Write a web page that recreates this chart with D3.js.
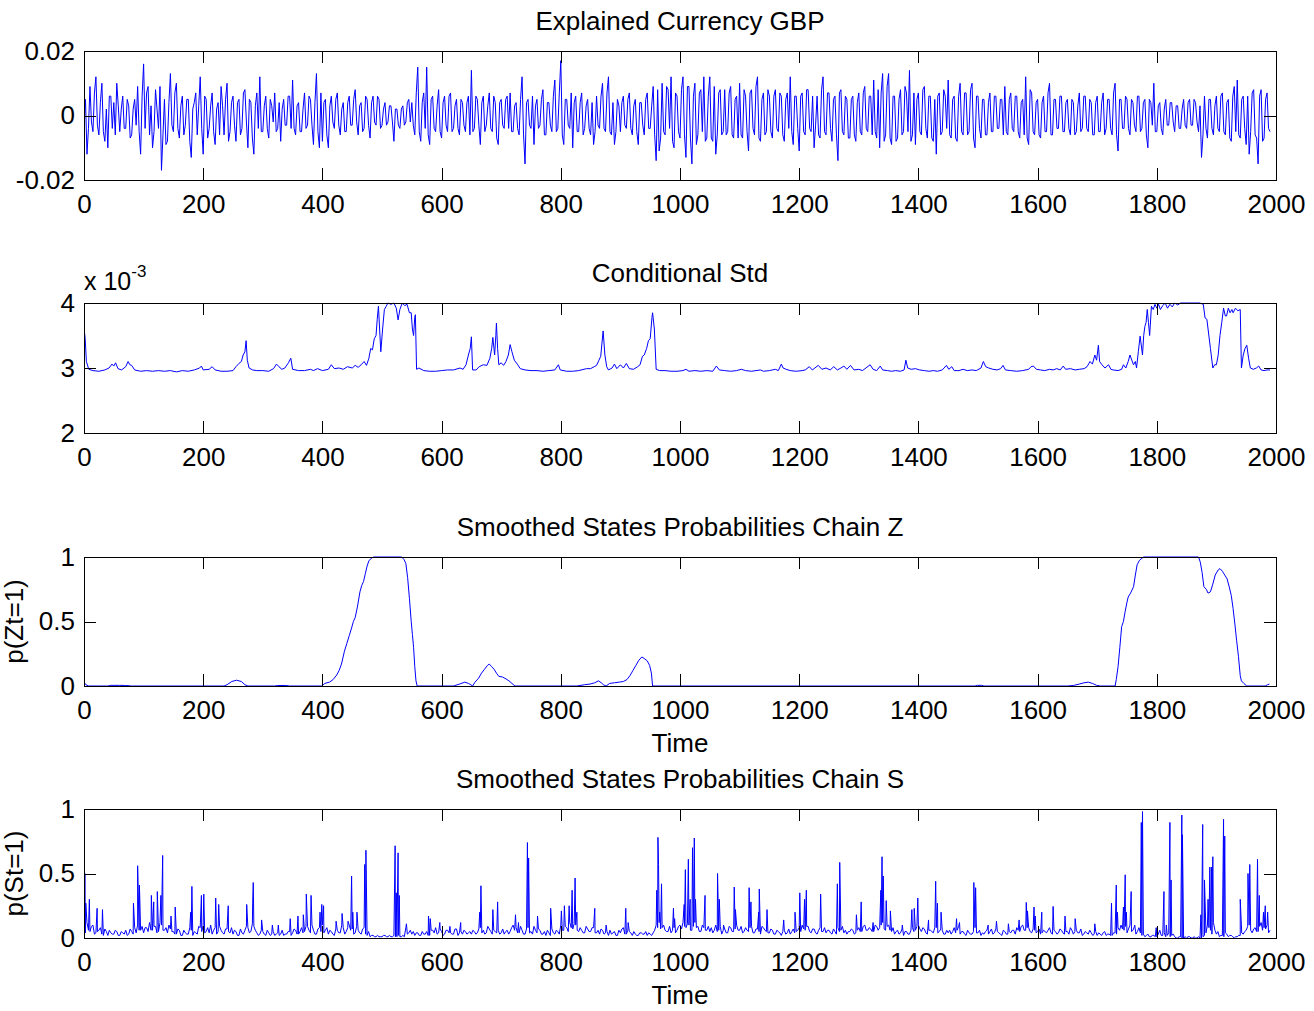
<!DOCTYPE html>
<html>
<head>
<meta charset="utf-8">
<script src="https://cdn.jsdelivr.net/npm/d3@7"></script>
<style>
body { margin: 0; background: #fff; }
</style>
</head>
<body>
<div id="chart-area"></div>
<script>
// x axis shared by all four panels
var xTicks = [0, 200, 400, 600, 800, 1000, 1200, 1400, 1600, 1800, 2000];
var step = 5; // sampling of the two dense series below

// Explained Currency GBP, thousandths, one value every 5 steps from t=0
var gbpRet = [
  -3, -12, 9, -5, 12, -6, 10, -8, -10, 6,
  4, 10, -5, 6, -4, 3, -6, 5, 9, -12,
  16, 7, -6, -10, 8, -4, -17, 5, -8, 13,
  -5, 10, -7, 6, -3, 5, -13, 4, -6, 12,
  -12, 5, -4, 7, -9, 4, 9, -6, 10, -5,
  6, -8, 5, -4, 8, -10, 4, -12, 7, 12,
  -5, 6, -7, 3, 7, -4, -8, 5, -3, 6,
  11, -6, 4, -5, 7, -3, 5, -9, 13, -10,
  -8, 5, -10, 6, -4, 7, -6, 4, -5, 6,
  -3, 8, -6, 4, -4, 5, -7, 6, -3, 5,
  -3, 4, -2, 3, -8, 2, -4, 3, -2, 5,
  4, -6, 15, -8, 7, 15, -9, 6, -5, 8,
  -7, 6, -5, 7, -4, 5, -6, 4, -5, 6,
  14, -4, 5, -9, 6, -3, 7, -5, 4, -9,
  5, -4, 6, 7, -5, 4, -6, 12, -15, 5,
  -4, -9, 5, -3, 8, -6, 4, -5, 11, -4,
  17, -9, 5, -4, -10, 6, -5, 7, -4, 5,
  -6, -9, 6, -4, 10, -5, 12, -6, -9, 5,
  -5, 6, -4, 7, -6, 5, -9, 4, -6, 7,
  -4, 9, -14, -11, 10, -6, 8, 12, -10, 6,
  -7, 12, -13, 9, -15, 10, -6, 8, 12, -7,
  12, -8, -12, 7, -6, 8, -5, 9, -7, 6,
  10, -7, 6, -11, 8, -6, 12, -8, 7, -5,
  6, -7, 8, -5, 6, -8, 7, 12, -9, 6,
  -11, 7, -6, 8, -5, -10, 6, -7, 12, -6,
  7, -8, 6, -14, 8, -6, 5, -7, 6, -8,
  7, -6, 9, -5, 6, 11, -7, -10, 13, -6,
  13, -9, 6, -7, 8, -5, 7, 14, -6, -9,
  7, -6, 9, -7, 6, -8, -12, 7, -5, 6,
  11, -7, 6, -8, 10, -6, 7, -5, 10, -10,
  6, -7, 5, -6, 7, -5, 6, -4, 5, 9,
  -6, 7, -5, 6, -7, 5, 12, -9, 7, -6,
  5, -7, 6, -5, 10, -6, 5, -4, 6, -5,
  5, -6, 4, -5, 7, -4, 6, -5, 4, -6,
  6, -5, 7, -4, 5, -6, 10, -11, 5, -4,
  5, -6, 4, -5, 6, -4, 5, -10, 4, 10,
  -5, 4, -6, 5, -3, 4, -5, 3, -4, 5,
  -4, 5, -3, 4, -5, -13, 6, -7, 5, -6,
  6, -5, 7, -6, 5, -8, 9, 11, -7, 6,
  -9, -12, 7, -6, -15, 8, -7, 7, -5
];
// the readings in between, at t = 2.5, 7.5, ...
var gbpRetMid = [
  5, -4, -2, 7, -3, 4, -5, 2, 6, -4,
  -6, 3, 2, -4, 5, -7, 2, -3, -5, 6,
  -4, 9, 3, -5, 2, 9, -6, -9, 4, -3,
  7, -4, 3, -6, 5, -8, 2, 7, 3, -4,
  6, -7, 3, -5, 2, -6, 3, 5, -8, 4,
  -3, 4, -6, 7, -2, 5, -7, 3, -4, -5,
  3, -4, 5, -2, -5, 4, 2, -3, 6, -4,
  -4, 3, -5, 2, -4, 6, -3, 4, -5, 7,
  4, -6, 3, -2, 5, -3, 2, -5, 4, -3,
  5, -2, 3, -5, 6, -3, 4, -2, 6, -4,
  2, -3, 3, -2, 2, -3, 2, -3, 4, -2,
  -3, 7, -5, 4, -4, -6, 5, -4, 3, -5,
  4, -3, 6, -5, 3, -4, 5, -3, 4, -6,
  -5, 6, -3, 4, -5, 3, -4, 6, -7, 4,
  -3, 5, -4, -5, 3, -4, 5, -6, 4, -3,
  6, 3, -4, 5, -6, 4, -3, 6, -5, 7,
  -6, 5, -3, 7, 4, -5, 4, -6, 3, -4,
  4, -5, -3, 6, -4, 7, -5, 4, -5, 3,
  4, -3, 5, -4, 3, -5, 4, -3, 5, -4,
  3, -6, 8, -7, -5, 9, -4, -8, 7, -5,
  8, -6, 9, -7, 6, -9, 7, -5, -8, 6,
  -7, 9, -6, 8, -5, -6, 7, -6, 5, -7,
  -6, 8, -5, 7, -4, 9, -7, 5, -6, 8,
  -5, 6, -4, 7, -6, 5, -4, -5, 6, -4,
  6, -5, 8, -4, 6, -3, -6, 8, -5, 7,
  -4, 5, -6, 7, -5, 6, -7, 5, -6, 4,
  -5, 7, -4, 6, -6, -5, 8, 7, -8, 9,
  -7, 6, -8, 5, -6, 9, -5, -8, 7, 5,
  -5, 8, -4, 6, -7, 5, 6, -6, 8, -4,
  -6, 5, -7, 6, -5, 7, -6, 8, -7, 6,
  -4, 5, -6, 4, -5, 6, -4, 5, -6, -5,
  5, -4, 6, -5, 4, -6, -7, 8, -5, 4,
  -6, 4, -5, 7, -6, 5, -4, 6, -5, 4,
  -4, 5, -6, 3, -5, 6, -4, 5, -6, 4,
  -5, 4, -6, 5, -4, 7, -6, 5, -4, 6,
  -4, 5, -3, 6, -5, 4, -6, 5, -3, -5,
  3, -4, 2, -3, 4, -2, 3, -4, 2, -3,
  4, -3, 5, -2, 3, -6, -4, 5, -4, 3,
  -4, 6, -5, 4, -7, 6, -5, -6, 5, -4,
  6, -5, 8, -7, 6, -8, 5, -4
];

// Conditional Std, x 10^-3, [t, value]
var condStd = [
  [0,3.62],[2,3.45],[4,3.1],[8,2.98],[15,2.96],[25,2.95],[35,2.97],[42,3.0],[47,3.06],[50,3.03],
  [53,3.08],[57,2.99],[63,2.97],[70,3.02],[74,3.1],[77,3.05],[80,3.04],[85,2.97],[95,2.95],[105,2.96],
  [115,2.95],[125,2.96],[135,2.95],[145,2.96],[155,2.94],[165,2.96],[175,2.95],[185,2.97],[194,3.0],[197,3.03],
  [200,2.97],[210,2.98],[215,3.02],[220,2.97],[230,2.95],[240,2.95],[250,2.96],[255,3.02],[260,3.07],[264,3.1],
  [267,3.2],[270,3.25],[272,3.42],[274,3.12],[277,3.0],[283,2.97],[290,2.96],[300,2.96],[310,2.95],[318,2.99],
  [323,3.06],[327,3.02],[332,2.98],[337,3.0],[343,3.08],[347,3.15],[350,2.98],[360,2.96],[370,2.96],[380,2.98],
  [385,2.96],[392,2.99],[400,2.96],[410,2.98],[415,3.05],[420,2.99],[428,3.0],[435,2.98],[442,3.02],[450,3.0],
  [455,3.04],[460,3.01],[465,3.05],[470,3.1],[474,3.04],[478,3.15],[481,3.3],[484,3.28],[487,3.45],[490,3.5],
  [492,3.75],[494,3.95],[496,3.6],[498,3.25],[501,3.6],[504,3.9],[507,3.95],[510,4.0],[515,3.98],[520,4.0],
  [524,3.92],[527,3.74],[530,3.9],[534,4.0],[538,3.96],[542,3.98],[546,3.85],[549,3.85],[551,3.6],[553,3.5],
  [555,3.78],[556,3.82],[558,2.98],[562,3.0],[570,2.96],[580,2.95],[590,2.95],[600,2.96],[610,2.97],[620,2.97],
  [631,3.0],[636,2.98],[641,3.05],[645,3.2],[648,3.3],[650,3.48],[652,2.97],[658,2.97],[663,3.02],[670,3.05],
  [676,3.04],[681,3.15],[684,3.3],[686,3.47],[689,3.2],[691,3.5],[692,3.69],[694,3.3],[696,3.05],[700,3.08],
  [704,3.04],[708,3.1],[712,3.2],[715,3.36],[718,3.25],[722,3.12],[727,3.06],[732,2.99],[740,2.97],[750,2.96],
  [760,2.96],[770,2.95],[780,2.96],[790,2.97],[796,3.05],[799,2.97],[810,2.95],[820,2.95],[830,2.96],[843,2.99],
  [850,2.99],[856,3.02],[860,3.04],[864,3.12],[867,3.18],[871,3.57],[874,3.2],[877,3.02],[880,2.97],[886,3.0],
  [890,3.06],[894,2.99],[900,3.05],[905,3.0],[910,3.07],[915,2.99],[922,2.98],[929,3.02],[933,3.05],[937,3.18],
  [940,3.2],[944,3.3],[947,3.42],[950,3.45],[953,3.78],[954,3.85],[957,3.6],[960,2.98],[966,2.96],[975,2.96],
  [985,2.95],[995,2.95],[1005,2.96],[1010,2.98],[1015,2.95],[1025,2.96],[1035,2.95],[1045,2.96],[1055,2.95],[1061,3.03],
  [1066,2.97],[1075,2.96],[1085,2.95],[1095,2.96],[1103,2.98],[1110,2.96],[1120,2.95],[1135,2.97],[1140,2.95],[1150,2.96],
  [1160,2.98],[1165,2.96],[1170,3.06],[1173,3.0],[1178,2.98],[1185,2.96],[1195,2.95],[1205,2.96],[1210,2.97],[1217,3.02],
  [1222,2.97],[1232,3.04],[1238,2.98],[1245,3.0],[1252,2.97],[1258,3.02],[1264,2.97],[1270,3.0],[1275,3.03],[1280,2.98],
  [1286,3.04],[1292,2.97],[1300,2.98],[1306,2.96],[1312,3.0],[1319,3.05],[1324,2.98],[1330,2.96],[1336,3.03],[1340,2.97],
  [1348,2.96],[1355,2.95],[1362,2.96],[1370,2.95],[1376,2.97],[1379,3.12],[1382,3.0],[1388,2.98],[1395,2.99],[1402,2.97],
  [1410,2.96],[1418,2.95],[1425,2.96],[1432,2.95],[1440,2.97],[1447,3.04],[1451,2.98],[1456,3.02],[1460,2.96],[1468,2.96],
  [1475,2.98],[1482,2.96],[1490,2.97],[1497,2.96],[1505,3.0],[1509,3.1],[1513,3.02],[1518,3.0],[1525,2.98],[1532,2.97],
  [1538,2.99],[1542,3.04],[1546,2.97],[1555,2.96],[1565,2.95],[1575,2.96],[1585,2.98],[1589,3.02],[1593,3.03],[1598,2.98],
  [1605,2.97],[1612,2.96],[1620,2.98],[1626,2.97],[1632,2.99],[1638,2.97],[1643,3.03],[1647,2.98],[1655,2.99],[1663,2.97],
  [1670,2.98],[1678,2.99],[1683,3.02],[1688,3.1],[1692,3.06],[1696,3.2],[1699,3.12],[1702,3.35],[1704,3.1],[1708,3.05],
  [1713,3.0],[1719,3.05],[1723,2.98],[1727,2.97],[1735,2.96],[1741,2.98],[1744,3.05],[1748,3.0],[1752,3.1],[1755,3.2],
  [1758,3.12],[1761,3.05],[1764,3.1],[1766,3.0],[1769,3.25],[1772,3.49],[1776,3.2],[1778,3.5],[1780,3.64],[1782,3.7],
  [1784,3.9],[1786,3.7],[1788,3.5],[1791,3.95],[1794,3.9],[1797,3.98],[1800,3.92],[1803,3.98],[1806,3.9],[1810,3.96],
  [1814,4.0],[1818,3.92],[1822,3.98],[1826,3.94],[1830,4.0],[1835,3.97],[1840,4.0],[1848,4.0],[1856,4.0],[1864,4.0],
  [1872,4.0],[1878,3.98],[1881,3.77],[1884,3.75],[1886,3.6],[1890,3.3],[1894,3.0],[1897,3.05],[1900,3.05],[1903,3.2],
  [1906,3.5],[1909,3.7],[1912,3.92],[1915,3.8],[1917,3.8],[1920,3.92],[1923,3.85],[1926,3.9],[1928,3.85],[1932,3.92],
  [1936,3.88],[1940,3.9],[1942,3.0],[1945,3.2],[1948,3.3],[1951,3.35],[1954,3.15],[1957,3.0],[1962,2.98],[1967,3.0],
  [1971,3.03],[1975,2.97],[1980,2.96],[1985,2.97],[1990,2.97]
];

// Smoothed p(Zt=1), [t, value]
var probZ = [
  [0,0.03],[3,0.01],[8,0],[40,0],[45,0.005],[60,0.005],[70,0.004],[80,0],[235,0],[240,0.01],
  [248,0.035],[256,0.045],[264,0.035],[270,0.01],[275,0],[320,0],[325,0.004],[340,0.004],[345,0],[399,0],
  [404,0.02],[412,0.03],[418,0.05],[424,0.085],[428,0.12],[432,0.17],[437,0.27],[441,0.33],[445,0.39],[449,0.45],
  [452,0.5],[455,0.53],[459,0.62],[463,0.73],[466,0.78],[469,0.81],[472,0.87],[475,0.93],[478,0.97],[482,0.99],
  [486,1],[533,1],[537,0.98],[540,0.95],[543,0.84],[546,0.68],[549,0.5],[551,0.4],[553,0.3],[555,0.15],
  [557,0.04],[559,0],[620,0],[630,0.015],[639,0.03],[645,0.02],[649,0.01],[652,0],[656,0.03],[662,0.06],
  [667,0.1],[672,0.13],[677,0.16],[680,0.17],[684,0.15],[688,0.13],[692,0.1],[696,0.075],[702,0.07],[708,0.055],
  [713,0.04],[718,0.02],[723,0],[827,0],[840,0.01],[849,0.015],[857,0.025],[863,0.04],[868,0.025],[872,0.008],
  [876,0],[882,0.02],[890,0.025],[898,0.03],[905,0.035],[911,0.05],[916,0.08],[921,0.12],[926,0.16],[931,0.2],
  [936,0.225],[941,0.21],[945,0.195],[949,0.16],[952,0.1],[954,0],[1495,0],[1499,0.005],[1506,0.005],[1510,0],
  [1650,0],[1660,0.004],[1670,0.015],[1678,0.025],[1685,0.03],[1692,0.02],[1699,0.005],[1705,0],[1730,0],[1732,0.05],
  [1735,0.15],[1738,0.3],[1741,0.46],[1744,0.5],[1747,0.58],[1750,0.65],[1752,0.69],[1756,0.72],[1761,0.77],[1764,0.86],
  [1767,0.94],[1771,0.975],[1775,0.99],[1778,1],[1870,1],[1873,0.96],[1876,0.88],[1879,0.77],[1883,0.75],[1886,0.72],
  [1890,0.73],[1894,0.79],[1898,0.86],[1903,0.9],[1906,0.91],[1910,0.89],[1914,0.86],[1918,0.83],[1922,0.76],[1925,0.7],
  [1928,0.6],[1931,0.48],[1934,0.35],[1937,0.23],[1940,0.08],[1942,0.04],[1946,0.02],[1951,0],[1982,0],[1986,0.01],
  [1989,0.015]
];

// Smoothed p(St=1): background level in hundredths every 5 steps ...
var probSBase = [
  8, 12, 5, 10, 4, 6, 3, 7, 2, 4,
  3, 5, 2, 4, 6, 3, 5, 8, 10, 6,
  4, 8, 12, 6, 9, 5, 10, 6, 4, 7,
  5, 3, 6, 2, 4, 3, 6, 5, 3, 8,
  10, 5, 4, 3, 8, 5, 6, 3, 7, 4,
  3, 5, 2, 4, 6, 8, 5, 9, 4, 3,
  5, 2, 4, 3, 2, 4, 3, 2, 3, 5,
  4, 6, 3, 8, 5, 9, 4, 6, 3, 8,
  10, 6, 3, 5, 2, 6, 4, 8, 5, 10,
  7, 4, 6, 3, 8, 2, 1, 2, 1, 1,
  1, 2, 1, 1, 2, 1, 1, 2, 8, 4,
  3, 2, 4, 2, 3, 5, 2, 6, 8, 4,
  5, 3, 6, 4, 3, 7, 4, 3, 5, 4,
  3, 5, 4, 8, 6, 4, 7, 3, 5, 6,
  4, 3, 6, 5, 10, 8, 4, 6, 3, 8,
  5, 9, 4, 6, 3, 2, 4, 7, 3, 5,
  10, 6, 8, 12, 7, 10, 5, 6, 4, 7,
  5, 8, 4, 3, 6, 4, 2, 3, 5, 2,
  4, 8, 3, 5, 2, 3, 2, 4, 3, 2,
  3, 4, 10, 12, 8, 6, 5, 4, 8, 6,
  10, 12, 8, 10, 6, 12, 9, 5, 8, 6,
  5, 4, 10, 6, 3, 7, 4, 8, 5, 10,
  6, 4, 8, 5, 9, 4, 7, 3, 8, 5,
  4, 6, 3, 5, 2, 6, 4, 3, 7, 5,
  8, 10, 6, 9, 4, 7, 3, 8, 5, 4,
  6, 3, 5, 8, 6, 4, 3, 5, 6, 4,
  8, 5, 10, 6, 7, 5, 9, 8, 12, 6,
  10, 5, 3, 6, 4, 2, 5, 3, 8, 6,
  10, 5, 7, 3, 6, 4, 8, 5, 6, 3,
  4, 3, 8, 6, 3, 5, 2, 4, 3, 8,
  4, 2, 3, 6, 5, 3, 7, 4, 2, 5,
  3, 4, 6, 8, 5, 10, 6, 8, 4, 6,
  5, 3, 6, 4, 8, 3, 5, 4, 6, 3,
  5, 8, 3, 6, 4, 2, 5, 3, 4, 3,
  2, 3, 4, 2, 3, 2, 4, 8, 10, 6,
  4, 10, 6, 3, 8, 2, 1, 3, 1, 2,
  1, 6, 2, 1, 4, 2, 1, 0, 1, 0,
  0, 1, 0, 0, 1, 0, 2, 10, 6, 12,
  3, 1, 2, 4, 1, 2, 0, 1, 2, 3,
  6, 10, 4, 8, 5, 12, 8, 10, 6
];
var probSBaseMid = [
  4, 6, 9, 3, 5, 8, 2, 5, 6, 3,
  6, 2, 5, 3, 2, 7, 3, 4, 6, 9,
  8, 5, 6, 9, 4, 12, 6, 8, 10, 5,
  3, 7, 2, 6, 3, 8, 2, 4, 9, 5,
  4, 8, 10, 6, 3, 9, 4, 7, 5, 8,
  6, 2, 7, 3, 9, 4, 11, 6, 2, 6,
  3, 6, 2, 5, 3, 2, 6, 3, 5, 2,
  7, 3, 5, 4, 9, 6, 10, 3, 7, 5,
  4, 8, 6, 3, 7, 4, 10, 3, 8, 6,
  3, 9, 4, 7, 3, 5, 2, 1, 2, 1,
  2, 1, 2, 1, 1, 2, 1, 1, 3, 6,
  5, 4, 2, 5, 3, 2, 6, 4, 3, 7,
  2, 6, 4, 3, 7, 2, 5, 6, 3, 5,
  6, 3, 7, 4, 3, 9, 5, 6, 4, 3,
  7, 5, 3, 8, 6, 4, 9, 3, 7, 4,
  3, 6, 7, 3, 5, 6, 2, 4, 6, 3,
  6, 9, 5, 8, 11, 6, 8, 4, 9, 5,
  8, 4, 6, 7, 3, 5, 6, 4, 2, 6,
  7, 3, 6, 4, 5, 2, 4, 3, 5, 4,
  2, 6, 8, 7, 10, 5, 9, 6, 4, 9,
  7, 9, 11, 6, 9, 8, 5, 10, 6, 9,
  8, 6, 5, 9, 6, 4, 9, 5, 7, 6,
  9, 5, 6, 8, 4, 7, 5, 9, 6, 4,
  7, 3, 6, 4, 5, 3, 7, 5, 4, 6,
  5, 7, 9, 5, 7, 4, 6, 5, 8, 6,
  4, 7, 3, 5, 9, 6, 5, 7, 3, 6,
  5, 9, 6, 8, 5, 10, 6, 10, 7, 9,
  6, 8, 5, 3, 7, 5, 3, 6, 5, 9,
  7, 8, 4, 6, 5, 8, 4, 7, 3, 6,
  6, 5, 4, 9, 5, 3, 6, 3, 5, 4,
  6, 4, 5, 3, 7, 4, 5, 3, 6, 3,
  5, 6, 3, 6, 9, 6, 8, 5, 7, 4,
  7, 4, 5, 6, 4, 6, 3, 7, 4, 5,
  3, 6, 5, 4, 7, 3, 4, 6, 2, 5,
  4, 2, 5, 3, 2, 4, 3, 6, 7, 9,
  7, 5, 9, 5, 4, 3, 2, 1, 2, 1,
  3, 2, 4, 2, 1, 3, 0, 1, 0, 1,
  1, 0, 1, 0, 0, 1, 4, 8, 3, 6,
  5, 2, 1, 3, 2, 1, 1, 2, 4, 5,
  9, 6, 7, 5, 9, 6, 7, 4
];

// ... and the spikes on top of it, [t, value]
var probSSpikes = [
  [1.5,0.5],[3,0.27],[9,0.3],[22,0.23],[31,0.22],[83,0.27],[90,0.56],[93,0.41],[113,0.33],[117,0.28],
  [123,0.36],[129,0.33],[132,0.64],[146,0.17],[153,0.24],[179,0.2],[181,0.4],[197,0.33],[201,0.34],[221,0.31],
  [226,0.26],[242,0.25],[273,0.26],[283,0.27],[284,0.43],[298,0.14],[316,0.1],[326,0.1],[346,0.15],[359,0.17],
  [368,0.18],[373,0.34],[381,0.33],[396,0.2],[399,0.26],[402,0.25],[423,0.13],[433,0.19],[443,0.13],[449,0.48],
  [451,0.2],[458,0.2],[471,0.57],[473,0.68],[522,0.715],[524,0.35],[527,0.66],[529,0.33],[541,0.11],[578,0.17],
  [581,0.15],[597,0.12],[614,0.09],[632,0.12],[664,0.2],[666,0.405],[686,0.22],[694,0.28],[724,0.18],[729,0.12],
  [744,0.74],[746,0.62],[761,0.17],[783,0.23],[801,0.21],[806,0.25],[814,0.25],[819,0.37],[824,0.465],[827,0.2],
  [857,0.23],[876,0.1],[909,0.23],[913,0.12],[961,0.37],[963,0.78],[964,0.57],[966,0.2],[969,0.42],[989,0.23],
  [991,0.15],[1007,0.26],[1009,0.53],[1014,0.61],[1017,0.3],[1021,0.7],[1024,0.775],[1026,0.3],[1042,0.33],[1063,0.5],
  [1066,0.3],[1073,0.1],[1091,0.395],[1093,0.22],[1116,0.39],[1119,0.28],[1132,0.2],[1133,0.38],[1146,0.22],[1174,0.14],
  [1193,0.2],[1201,0.35],[1209,0.3],[1212,0.37],[1236,0.34],[1264,0.42],[1268,0.586],[1296,0.18],[1304,0.28],[1324,0.12],
  [1337,0.37],[1339,0.63],[1341,0.48],[1346,0.29],[1353,0.21],[1373,0.1],[1389,0.22],[1393,0.23],[1399,0.31],[1417,0.14],
  [1429,0.44],[1432,0.27],[1438,0.2],[1464,0.15],[1469,0.12],[1493,0.43],[1496,0.39],[1517,0.1],[1531,0.13],[1551,0.11],
  [1569,0.14],[1581,0.276],[1583,0.21],[1594,0.24],[1596,0.17],[1607,0.2],[1626,0.245],[1646,0.17],[1663,0.15],[1696,0.11],
  [1724,0.27],[1732,0.41],[1734,0.2],[1744,0.24],[1747,0.49],[1749,0.2],[1757,0.36],[1763,0.1],[1774,0.896],[1776,0.98],
  [1799,0.08],[1812,0.36],[1816,0.1],[1822,0.896],[1824,0.45],[1842,0.953],[1843,0.8],[1874,0.18],[1877,0.88],[1880,0.45],
  [1886,0.3],[1889,0.55],[1892,0.55],[1894,0.63],[1912,0.92],[1914,0.79],[1940,0.3],[1953,0.5],[1956,0.57],[1969,0.61],
  [1972,0.33],[1979,0.2],[1982,0.25],[1986,0.2]
];

var def = {
    width: 1314,
    height: 1011,
    left: 84,
    right: 1276,
    tick: 12,
    font: 26,
    family: '"Liberation Sans", Arial, Helvetica, sans-serif',
    color: '#0000ff'
};

var svg = d3.select('#chart-area').append('svg')
    .attr('width', def.width)
    .attr('height', def.height)
    .style('display', 'block');

var x = d3.scaleLinear()
    .domain([0, 2000])
    .range([def.left, def.right]);

function byTime(a, b) { return a.t - b.t; }

var retData = gbpRet.map((v, i) => ({t: i * step, v: v / 1000}))
    .concat(gbpRetMid.map((v, i) => ({t: i * step + step / 2, v: v / 1000})))
    .sort(byTime);
var stdData = condStd.map(d => ({t: d[0], v: d[1]}));
var zData = probZ.map(d => ({t: d[0], v: d[1]}));
var sData = probSBase.map((v, i) => ({t: i * step, v: v / 100}))
    .concat(probSBaseMid.map((v, i) => ({t: i * step + step / 2, v: v / 100})))
    .concat(probSSpikes.map(d => ({t: d[0], v: d[1]})))
    .sort(byTime);

function panel(id, cfg) {
    var y = d3.scaleLinear()
        .domain(cfg.domain)
        .range([cfg.bottom, cfg.top]);
    var g = svg.append('g');

    g.append('clipPath').attr('id', 'clip' + id)
        .append('rect')
        .attr('x', def.left)
        .attr('y', cfg.top - 1)
        .attr('width', def.right - def.left)
        .attr('height', cfg.bottom - cfg.top + 2);

    g.append('path')
        .datum(cfg.data)
        .attr('clip-path', 'url(#clip' + id + ')')
        .attr('fill', 'none')
        .attr('stroke', def.color)
        .attr('stroke-width', 1)
        .attr('d', d3.line().x(d => x(d.t)).y(d => y(d.v)));

    // box with inward ticks on all four sides, like matlab
    var axes = [
        [d3.axisBottom(x).tickValues(xTicks).tickPadding(15).tickFormat(String), 'translate(0,' + cfg.bottom + ')'],
        [d3.axisTop(x).tickValues(xTicks).tickFormat(''), 'translate(0,' + cfg.top + ')'],
        [d3.axisLeft(y).tickValues(cfg.ticks).tickPadding(9).tickFormat(String), 'translate(' + def.left + ',0)'],
        [d3.axisRight(y).tickValues(cfg.ticks).tickFormat(''), 'translate(' + def.right + ',0)']
    ];
    axes.forEach(a => {
        var ax = g.append('g')
            .attr('transform', a[1])
            .call(a[0].tickSizeInner(-def.tick).tickSizeOuter(0))
            .attr('font-size', def.font)
            .attr('font-family', def.family);
        ax.selectAll('line, path').attr('stroke', '#000').attr('shape-rendering', 'crispEdges');
        ax.selectAll('text').attr('fill', '#000');
    });

    g.append('text')
        .attr('x', (def.left + def.right) / 2)
        .attr('y', cfg.top - 21)
        .attr('text-anchor', 'middle')
        .attr('font-size', def.font)
        .attr('font-family', def.family)
        .text(cfg.title);

    if (cfg.ylab) {
        g.append('text')
            .attr('transform', 'translate(23,' + (cfg.top + cfg.bottom) / 2 + ') rotate(-90)')
            .attr('text-anchor', 'middle')
            .attr('font-size', def.font)
            .attr('font-family', def.family)
            .text(cfg.ylab);
    }
    if (cfg.xlab) {
        g.append('text')
            .attr('x', (def.left + def.right) / 2)
            .attr('y', cfg.bottom + 66)
            .attr('text-anchor', 'middle')
            .attr('font-size', def.font)
            .attr('font-family', def.family)
            .text(cfg.xlab);
    }
    return g;
}

panel(1, {top: 51, bottom: 180, domain: [-0.02, 0.02], ticks: [-0.02, 0, 0.02],
    data: retData, title: 'Explained Currency GBP'});

var g2 = panel(2, {top: 303, bottom: 433, domain: [2, 4], ticks: [2, 3, 4],
    data: stdData, title: 'Conditional Std'});

// exponent label
var expo = g2.append('text')
    .attr('x', def.left)
    .attr('y', 290)
    .attr('font-size', 25)
    .attr('font-family', def.family)
    .text('x 10');
expo.append('tspan')
    .attr('dy', -13)
    .attr('font-size', 17)
    .text('-3');

panel(3, {top: 557, bottom: 686, domain: [0, 1], ticks: [0, 0.5, 1],
    data: zData, title: 'Smoothed States Probabilities Chain Z', ylab: 'p(Zt=1)', xlab: 'Time'});

panel(4, {top: 809, bottom: 938, domain: [0, 1], ticks: [0, 0.5, 1],
    data: sData, title: 'Smoothed States Probabilities Chain S', ylab: 'p(St=1)', xlab: 'Time'});
</script>
</body>
</html>
